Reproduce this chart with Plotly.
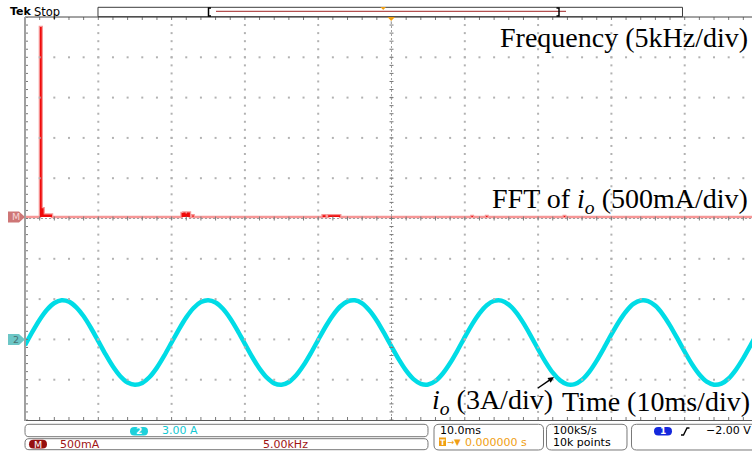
import plotly.graph_objects as go

# ---------------- scope settings (status-bar readouts / trace scales) ----------------
ch2_scale_a = 3.00        # channel 2 vertical scale, A/div
ch2_pos_div = -3.0        # channel 2 ground position, divisions from centre
math_scale_ma = 500.0     # FFT vertical scale, mA/div
math_pos_div = 0.04       # FFT zero position, divisions from centre
freq_scale_khz = 5.00     # FFT horizontal scale, kHz/div
time_scale_ms = 10.0      # time base, ms/div
trig_pos_s = 0.0
trig_level_v = -2.00
sample_rate_txt = "100kS/s"
record_len_txt = "10k points"

# ---------------- channel 2: output current i_o (A), one sample per ms ----------------
t_ms = list(range(-50, 51))
io_a = [-0.43, 0.56, 1.47, 2.21, 2.71, 2.92, 2.81, 2.39, 1.72, 0.85,
        -0.13, -1.12, -2.02, -2.74, -3.21, -3.38, -3.24, -2.80, -2.10, -1.21,
        -0.23, 0.75, 1.64, 2.34, 2.78, 2.92, 2.75, 2.28, 1.56, 0.66,
        -0.33, -1.31, -2.18, -2.85, -3.27, -3.38, -3.17, -2.67, -1.93, -1.02,
        -0.03, 0.94, 1.79, 2.45, 2.83, 2.91, 2.68, 2.15, 1.39, 0.46,
        -0.53, -1.49, -2.33, -2.96, -3.31, -3.36, -3.10, -2.54, -1.76, -0.83,
        0.17, 1.12, 1.94, 2.55, 2.87, 2.89, 2.59, 2.01, 1.21, 0.27,
        -0.73, -1.67, -2.48, -3.05, -3.35, -3.33, -3.01, -2.40, -1.58, -0.63,
        0.37, 1.30, 2.08, 2.64, 2.90, 2.85, 2.50, 1.87, 1.03, 0.07,
        -0.92, -1.85, -2.61, -3.14, -3.37, -3.29, -2.91, -2.25, -1.40, -0.43,
        0.56]

# ---------------- math channel: FFT of i_o (step-held bins) ----------------
fft_khz = [0.0, 1.02, 1.14, 1.27, 1.84, 10.68, 10.80, 10.95, 11.05, 11.25,
           11.42, 11.50, 20.30, 20.50, 20.68, 21.50, 30.45, 30.55, 31.45, 31.55,
           36.75, 36.85, 49.6]
fft_ma = [0, 2357, 108, 30, 0, 48, 55, 42, 54, 0,
          20, 0, 20, 0, 20, 0, 10, 0, 10, 0,
          10, 0, 0]

# ---------------- page geometry ----------------
W, H = 752, 453
ML, MR, MT, MB = 25, 0, 17, 33
PW, PH = W - ML - MR, H - MT - MB
DIVX = 73.3
DIVY = PH / 10.0
NX = PW / DIVX


def X(px):
    return (px - ML) / PW


def Y(py):
    return (H - MB - py) / PH


t_range = [-5 * time_scale_ms, (NX - 5) * time_scale_ms]
f_range = [0, NX * freq_scale_khz]
i_range = [(-5 - ch2_pos_div) * ch2_scale_a, (5 - ch2_pos_div) * ch2_scale_a]
m_range = [(-5 - math_pos_div) * math_scale_ma, (5 - math_pos_div) * math_scale_ma]


def y_px(v, rng):
    return MT + (rng[1] - v) / (rng[1] - rng[0]) * PH


# ---------------- graticule ----------------
minor_x = [k * 0.2 for k in range(int(NX / 0.2) + 1)]
minor_y = [-5 + k * 0.2 for k in range(51)]

dots_x, dots_y = [], []
for r in range(-4, 5):
    if r == 0:
        continue
    for xv in minor_x[1:]:
        dots_x.append(xv)
        dots_y.append(r)
for c in range(1, 10):
    if c == 5:
        continue
    for yv in minor_y[1:-1]:
        dots_x.append(c)
        dots_y.append(yv)

tick_x, tick_y = [], []


def seg(x0, y0, x1, y1):
    tick_x.extend([x0, x1, None])
    tick_y.extend([y0, y1, None])


tlx, tly = 3.0 / DIVX, 3.0 / DIVY
for xv in minor_x:
    seg(xv, 5, xv, 5 - tly)
    seg(xv, -5, xv, -5 + tly)
    seg(xv, -2 / DIVY, xv, 2 / DIVY)
for yv in minor_y:
    seg(0, yv, tlx, yv)
    seg(5 - 2 / DIVX, yv, 5 + 2 / DIVX, yv)

fig = go.Figure()

fig.add_trace(go.Scatter(x=dots_x, y=dots_y, xaxis="x3", yaxis="y3", mode="markers",
                         marker=dict(symbol="square", size=2, color="rgb(178,178,178)"),
                         hoverinfo="skip", showlegend=False))
fig.add_trace(go.Scatter(x=[0, NX, None, 5, 5], y=[0, 0, None, -5, 5], xaxis="x3", yaxis="y3",
                         mode="lines", line=dict(color="rgb(160,160,160)", width=1, dash="2px,2px"),
                         hoverinfo="skip", showlegend=False))
fig.add_trace(go.Scatter(x=tick_x, y=tick_y, xaxis="x3", yaxis="y3", mode="lines",
                         line=dict(color="rgb(120,120,120)", width=1),
                         hoverinfo="skip", showlegend=False))

# FFT trace: pale trace line with solid red body above zero
fig.add_trace(go.Scatter(x=fft_khz, y=fft_ma, xaxis="x2", yaxis="y2", mode="lines",
                         line=dict(color="rgb(246,150,150)", width=2.5, shape="hv"),
                         hoverinfo="skip", showlegend=False))
fig.add_trace(go.Scatter(x=fft_khz, y=fft_ma, xaxis="x2", yaxis="y2", mode="lines",
                         line=dict(color="rgba(0,0,0,0)", width=0, shape="hv"),
                         fill="tozeroy", fillcolor="rgb(240,10,10)",
                         hoverinfo="skip", showlegend=False))

# channel 2 current trace
fig.add_trace(go.Scatter(x=t_ms, y=io_a, xaxis="x", yaxis="y", mode="lines",
                         line=dict(color="rgb(0,220,230)", width=4.5, shape="spline", smoothing=0.6),
                         hoverinfo="skip", showlegend=False))

# ---------------- shapes ----------------
shapes = []


def line_px(x0, y0, x1, y1, color, width=1):
    shapes.append(dict(type="line", xref="paper", yref="paper", x0=X(x0), y0=Y(y0),
                       x1=X(x1), y1=Y(y1), line=dict(color=color, width=width), layer="above"))


def poly_px(points, fill=None, color=None, width=1, close=True):
    d = "M" + " L".join(f"{X(a):.5f},{Y(b):.5f}" for a, b in points)
    if close:
        d += " Z"
    shapes.append(dict(type="path", xref="paper", yref="paper", path=d,
                       fillcolor=fill if fill else "rgba(0,0,0,0)",
                       line=dict(color=color if color else "rgba(0,0,0,0)", width=width if color else 0),
                       layer="above"))


def rrect_px(x0, y0, x1, y1, r, fill=None, color=None, width=1):
    p = lambda a, b: f"{X(a):.5f},{Y(b):.5f}"
    d = (f"M{p(x0 + r, y0)} L{p(x1 - r, y0)} Q{p(x1, y0)} {p(x1, y0 + r)} "
         f"L{p(x1, y1 - r)} Q{p(x1, y1)} {p(x1 - r, y1)} L{p(x0 + r, y1)} "
         f"Q{p(x0, y1)} {p(x0, y1 - r)} L{p(x0, y0 + r)} Q{p(x0, y0)} {p(x0 + r, y0)} Z")
    shapes.append(dict(type="path", xref="paper", yref="paper", path=d,
                       fillcolor=fill if fill else "rgba(0,0,0,0)",
                       line=dict(color=color if color else "rgba(0,0,0,0)", width=width if color else 0),
                       layer="above"))


# graticule borders
line_px(ML, MT, W + 5, MT, "rgb(70,70,70)", 1)
line_px(ML, H - MB + 0.5, W + 5, H - MB + 0.5, "rgb(90,90,90)", 1)
line_px(ML, MT, ML, H - MB + 1, "rgb(160,160,160)", 2)

# header: record view bar
poly_px([(98, 7.3), (682.5, 7.3), (682.5, 16.7), (98, 16.7)], color="rgb(60,60,60)", width=1)
line_px(216, 11.3, 566, 11.3, "rgb(180,80,80)", 1.3)
poly_px([(211, 8), (208.5, 8), (208.5, 16), (211, 16)], color="black", width=1.5, close=False)
poly_px([(556.5, 8), (559, 8), (559, 16), (556.5, 16)], color="black", width=1.5, close=False)
poly_px([(380.5, 7), (386, 7), (383.2, 10)], fill="rgb(240,160,20)")
poly_px([(387.5, 17), (395, 17), (391.2, 21)], fill="rgb(240,160,20)")
line_px(391.2, 21, 391.2, 24, "rgb(170,170,170)", 1)

# left-edge channel markers
m_y = y_px(0, m_range)
c_y = y_px(0, i_range)
poly_px([(8, m_y - 5.5), (19, m_y - 5.5), (25, m_y), (19, m_y + 5.5), (8, m_y + 5.5)],
        fill="rgb(206,118,118)")
poly_px([(8, c_y - 5.5), (19, c_y - 5.5), (25, c_y), (19, c_y + 5.5), (8, c_y + 5.5)],
        fill="rgb(108,198,198)")

# status bar boxes
rrect_px(25, 424.3, 428, 436.7, 4, color="rgb(120,120,120)")
rrect_px(25, 438.7, 428, 449.7, 4, color="rgb(120,120,120)")
rrect_px(434, 424.3, 543.5, 450, 5, color="rgb(120,120,120)")
rrect_px(546.5, 424.3, 627, 450, 5, color="rgb(120,120,120)")
rrect_px(631.5, 424.3, 770, 450, 5, color="rgb(120,120,120)")

# channel badges
rrect_px(130, 427, 148, 435.5, 4.2, fill="rgb(30,208,218)")
rrect_px(29, 439.8, 47, 448.6, 4.4, fill="rgb(150,15,15)")
rrect_px(654, 427, 672, 435.5, 4.2, fill="rgb(20,40,220)")

# trigger position icon and rising-edge symbol
poly_px([(439, 437.5), (446, 437.5), (446, 446), (439, 446)], fill="rgb(240,160,20)")
poly_px([(681, 435), (683.5, 435), (687, 428), (689.5, 428)], color="black", width=1.4, close=False)

# pointer from the current label to its trace (shaft + head)
line_px(538, 388, 549.5, 380.1, "black", 1.5)
poly_px([(554, 377), (550.7, 382.7), (547.5, 378.1)], fill="black")

# ---------------- annotations ----------------
ann = []


def label(px, py, text, size=11, color="black", family="DejaVu Sans", xanchor="left",
          weight="normal"):
    ann.append(dict(x=X(px), y=Y(py), xref="paper", yref="paper", text=text, showarrow=False,
                    xanchor=xanchor, yanchor="middle", borderpad=0,
                    font=dict(family=family, size=size, color=color, weight=weight)))


label(9, 12, "Tek", size=11, weight="bold")
label(33, 12, "Stop", size=11.5)

label(15.5, m_y, "M", size=9.5, color="rgb(248,215,215)", xanchor="center")
label(15.5, c_y, "2", size=9.5, color="rgb(70,112,112)", xanchor="center")

cyan_txt = "rgb(20,200,210)"
dred_txt = "rgb(160,20,20)"
orange = "rgb(240,160,20)"
label(139, 431.3, "2", size=9, color="white", xanchor="center", weight="bold")
label(161, 431, f"{ch2_scale_a:.2f} A", color=cyan_txt)
label(38, 444.2, "M", size=9.5, color="white", xanchor="center")
label(59, 444.2, f"{math_scale_ma:.0f}mA", color=dred_txt)
label(262, 444.2, f"{freq_scale_khz:.2f}kHz", color=dred_txt)
label(439, 431, f"{time_scale_ms:.1f}ms")
label(442.5, 442, "T", size=7.5, color="white", xanchor="center", weight="bold")
label(446, 442, "→▼", size=8.5, color=orange)
label(464, 442, f"{trig_pos_s:.6f} s", color=orange)
label(552, 431, sample_rate_txt)
label(552, 442, record_len_txt)
label(663, 431.3, "1", size=9, color="white", xanchor="center", weight="bold")
trig_txt = ("\u2212" if trig_level_v < 0 else "") + f"{abs(trig_level_v):.2f} V"
label(705, 431, trig_txt)

serif = "Liberation Serif"
label(749, 37, f"Frequency ({freq_scale_khz:g}kHz/div)", size=28, family=serif, xanchor="right")
label(749, 200.5, f"FFT of <i>i<sub>o</sub></i> ({math_scale_ma:g}mA/div)", size=28,
      family=serif, xanchor="right")
label(554, 401, f"<i>i<sub>o</sub></i> ({ch2_scale_a:g}A/div)", size=28, family=serif,
      xanchor="right")
label(751, 401, f"Time ({time_scale_ms:g}ms/div)", size=28, family=serif, xanchor="right")

axis_off = dict(visible=False, showgrid=False, zeroline=False, fixedrange=True)
fig.update_layout(
    width=W, height=H, autosize=False,
    margin=dict(l=ML, r=MR, t=MT, b=MB, pad=0),
    paper_bgcolor="white", plot_bgcolor="white",
    showlegend=False,
    xaxis=dict(range=t_range, **axis_off),
    xaxis2=dict(range=f_range, overlaying="x", anchor="y", **axis_off),
    xaxis3=dict(range=[0, NX], overlaying="x", anchor="y", **axis_off),
    yaxis=dict(range=i_range, **axis_off),
    yaxis2=dict(range=m_range, overlaying="y", anchor="x", **axis_off),
    yaxis3=dict(range=[-5, 5], overlaying="y", anchor="x", **axis_off),
    shapes=shapes,
    annotations=ann,
)

fig.write_html("out.html", config={"displayModeBar": False})
